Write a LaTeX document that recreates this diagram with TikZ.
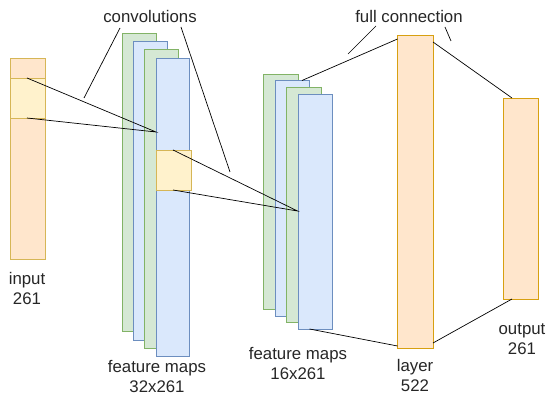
\documentclass[tikz,border=0pt]{standalone}
\usepackage{fontspec}
\setmainfont{Liberation Sans}
\definecolor{orfill}{HTML}{FFE6CC}
\definecolor{orline}{HTML}{D79B00}
\definecolor{yefill}{HTML}{FFF2CC}
\definecolor{yeline}{HTML}{D6B656}
\definecolor{grfill}{HTML}{D5E8D4}
\definecolor{grline}{HTML}{82B366}
\definecolor{blfill}{HTML}{DAE8FC}
\definecolor{blline}{HTML}{6C8EBF}
\tikzset{
  inbar/.style={draw=yeline,fill=orfill,line width=0.9pt},
  orbar/.style={draw=orline!80!yeline,fill=orfill,line width=0.9pt},
  hilite/.style={draw=yeline,fill=yefill,line width=0.9pt},
  gmap/.style={draw=grline,fill=grfill,line width=0.9pt},
  bmap/.style={draw=blline,fill=blfill,line width=0.9pt},
  conn/.style={draw=black,line width=0.7pt},
  lbl/.style={font=\fontsize{16.8}{20}\selectfont,align=center,text=black!85,inner sep=0pt},
}
\begin{document}
\begin{tikzpicture}[x=1pt,y=-1pt]
\useasboundingbox (0,0) rectangle (547,395);
% input
\draw[inbar] (10,58) rectangle (45,259);
\draw[hilite] (10,78) rectangle (45,118);
\coordinate (inT) at (27,78);
\coordinate (inB) at (27,118);
% feature maps 1
\draw[gmap] (122.5,33) rectangle (156,331.5);
\draw[bmap] (133.5,41) rectangle (167,340);
\draw[gmap] (144.5,49) rectangle (178,348);
\draw[bmap] (156,58) rectangle (189.5,356);
\draw[hilite] (156,150) rectangle (191.5,190);
\coordinate (fa) at (156,132);
\coordinate (hT) at (173,150);
\coordinate (hB) at (173,190);
% feature maps 2
\draw[gmap] (263.5,74) rectangle (298,309);
\draw[bmap] (275.5,80.5) rectangle (309.5,316);
\draw[gmap] (286.5,87.5) rectangle (321.5,322.5);
\draw[bmap] (298,94) rectangle (332.5,329);
\coordinate (fb) at (297.5,211);
\coordinate (f2T) at (302,80.5);
\coordinate (f2B) at (309.5,329);
% layer and output
\draw[orbar] (397.5,35) rectangle (433,348);
\draw[orbar] (503,98) rectangle (538.5,299);
\coordinate (lTL) at (397.5,39);
\coordinate (lTR) at (433,42);
\coordinate (lBL) at (397.5,346);
\coordinate (lBR) at (433,343);
\coordinate (oT) at (512,98);
\coordinate (oB) at (512,299);
% connections
\draw[conn] (inT) -- (fa) -- (inB);
\draw[conn] (hT) -- (fb) -- (hB);
\draw[conn] (f2T) -- (lTL);
\draw[conn] (lTR) -- (oT);
\draw[conn] (f2B) -- (lBL);
\draw[conn] (lBR) -- (oB);
% labels
\node[lbl] (conv) at (150,16) {convolutions};
\coordinate (c1a) at (120,28);
\coordinate (c1b) at (84,98);
\coordinate (c2a) at (181,27);
\coordinate (c2b) at (230,172);
\draw[conn] (c1a) -- (c1b);
\draw[conn] (c2a) -- (c2b);
\node[lbl] (full) at (409,16) {full connection};
\coordinate (u1a) at (376,26);
\coordinate (u1b) at (348,54);
\coordinate (u2a) at (445,27);
\coordinate (u2b) at (451,41);
\draw[conn] (u1a) -- (u1b);
\draw[conn] (u2a) -- (u2b);
\node[lbl] (lin) at (27,288.5) {input\\261};
\node[lbl] (lf1) at (157,377) {feature maps\\32x261};
\node[lbl] (lf2) at (298,363.5) {feature maps\\16x261};
\node[lbl] (llay) at (415,375.5) {layer\\522};
\node[lbl] (lout) at (522,339.5) {output\\261};
\end{tikzpicture}
\end{document}
